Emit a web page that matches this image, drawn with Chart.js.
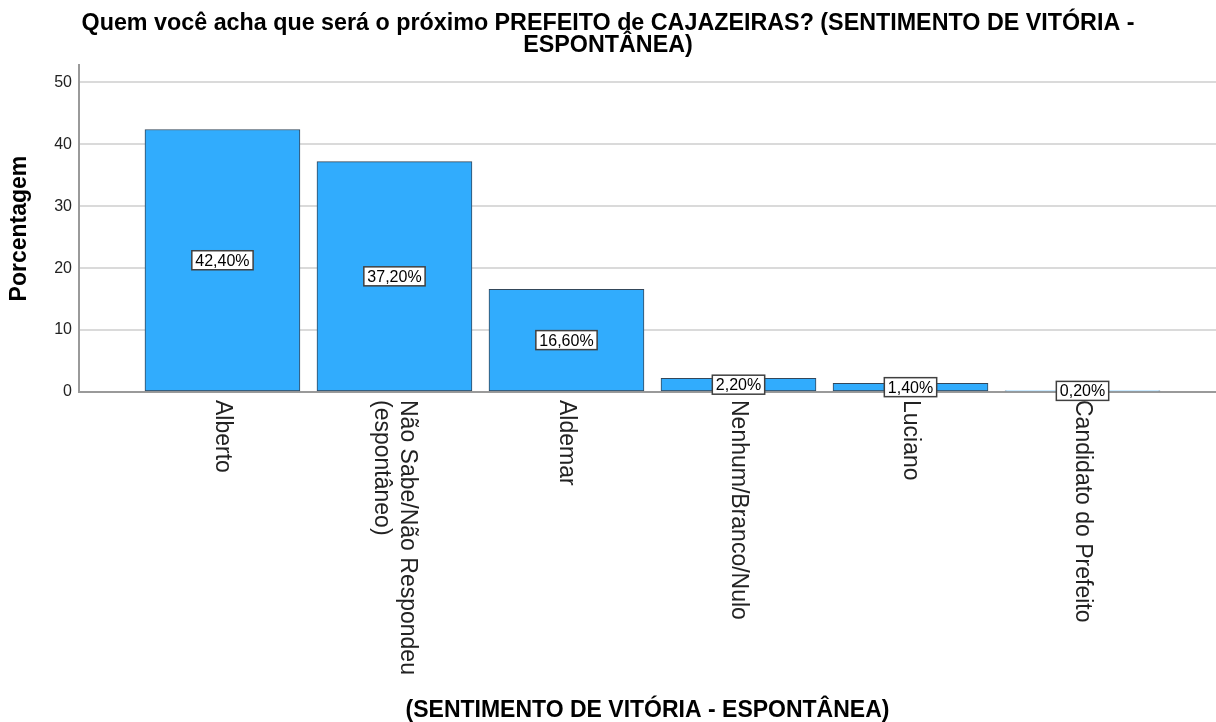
<!DOCTYPE html>
<html>
<head>
<meta charset="utf-8">
<script src="https://cdn.jsdelivr.net/npm/chart.js@4"></script>
<style>
    body { margin: 0; background: #fff; }
</style>
</head>
<body>
<canvas id="vitoriaChart" width="1216" height="722"></canvas>
<script>

// data

const categories = [
    ['Alberto'],
    ['Não Sabe/Não Respondeu', '(espontâneo)'],
    ['Aldemar'],
    ['Nenhum/Branco/Nulo'],
    ['Luciano'],
    ['Candidato do Prefeito'],
];
const percentages = [42.4, 37.2, 16.6, 2.2, 1.4, 0.2];
const yTicks = [0, 10, 20, 30, 40, 50];

const chartTitle = ['Quem você acha que será o próximo PREFEITO de CAJAZEIRAS? (SENTIMENTO DE VITÓRIA -', 'ESPONTÂNEA)'];
const xTitle = '(SENTIMENTO DE VITÓRIA - ESPONTÂNEA)';
const yTitle = 'Porcentagem';

const FONT = "'Liberation Sans', Arial, sans-serif";


// rotated category names (read top to bottom, like SPSS)
const categoryLabels = {
    id: 'categoryLabels',
    afterDraw(chart) {
        const ctx = chart.ctx;
        const xs = chart.scales.x;
        const lh = 26.5;
        ctx.save();
        ctx.font = `23px ${FONT}`;
        ctx.fillStyle = '#222';
        ctx.textAlign = 'left';
        ctx.textBaseline = 'middle';
        categories.forEach((lines, i) => {
            let x = xs.getPixelForValue(i);
            ctx.save();
            ctx.translate(x, xs.top + 8);
            ctx.rotate(Math.PI / 2);
            lines.forEach((line, k) => {
                ctx.fillText(line, 0, (k - (lines.length - 1) / 2) * lh);
            });
            ctx.restore();
        });
        ctx.restore();
    }
};

// white boxes with the percentage in the middle of each bar
const valueBoxes = {
    id: 'valueBoxes',
    afterDatasetsDraw(chart) {
        const ctx = chart.ctx;
        const meta = chart.getDatasetMeta(0);
        ctx.save();
        ctx.font = `16px ${FONT}`;
        ctx.textAlign = 'center';
        ctx.textBaseline = 'middle';
        meta.data.forEach((bar, i) => {
            let { x, y, base } = bar.getProps(['x', 'y', 'base'], true);
            let cy = (y + base) / 2;
            let txt = percentages[i].toFixed(2).replace('.', ',') + '%';
            let w = ctx.measureText(txt).width + 7;
            let h = 19;
            ctx.fillStyle = '#fff';
            ctx.fillRect(x - w / 2, cy - h / 2, w, h);
            ctx.strokeStyle = '#404040';
            ctx.lineWidth = 1.5;
            ctx.strokeRect(x - w / 2, cy - h / 2, w, h);
            ctx.fillStyle = '#000';
            ctx.fillText(txt, x, cy + 1);
        });
        ctx.restore();
    }
};


new Chart(
    document.getElementById('vitoriaChart'),
    {
        type: 'bar',
        data: {
            datasets: [{
                data: percentages.map((v, i) => ({ x: i, y: v })),
                backgroundColor: '#31acfd',
                borderColor: '#34475a',
                borderWidth: 1,
                borderSkipped: false,
                barThickness: 155,
            }]
        },
        options: {
            responsive: false,
            animation: false,
            devicePixelRatio: 1,
            layout: { padding: 0 },
            plugins: {
                legend: { display: false },
                tooltip: { enabled: false },
                title: {
                    display: true,
                    text: chartTitle,
                    color: '#000',
                    font: { family: FONT, size: 23.3, weight: 'bold', lineHeight: 0.94 },
                    padding: { top: 12.5, bottom: 8.8 },
                },
            },
            scales: {
                x: {
                    type: 'linear',
                    offset: false,
                    min: -0.834,
                    max: 5.776,
                    grid: { display: false, offset: false },
                    border: { display: true, color: '#9a9a9a', width: 2 },
                    ticks: { display: false },
                    afterFit: s => { s.height = 330; },
                    title: {
                        display: true,
                        text: xTitle,
                        color: '#000',
                        font: { family: FONT, size: 23, weight: 'bold', lineHeight: 1 },
                        padding: 0,
                    },
                },
                y: {
                    min: 0,
                    max: 52.8,
                    afterBuildTicks: s => { s.ticks = yTicks.map(v => ({ value: v })); },
                    grid: { color: '#dadada', lineWidth: 2, drawTicks: false },
                    border: { display: true, color: '#9a9a9a', width: 2 },
                    ticks: {
                        padding: 7,
                        color: '#222',
                        font: { family: FONT, size: 16 },
                    },
                    afterFit: s => { s.width = 79; },
                    title: {
                        display: true,
                        text: yTitle,
                        color: '#000',
                        font: { family: FONT, size: 23, weight: 'bold', lineHeight: 1 },
                        padding: { top: 8.5, bottom: 0 },
                    },
                },
            },
        },
        plugins: [valueBoxes, categoryLabels],
    }
);

</script>
</body>
</html>
